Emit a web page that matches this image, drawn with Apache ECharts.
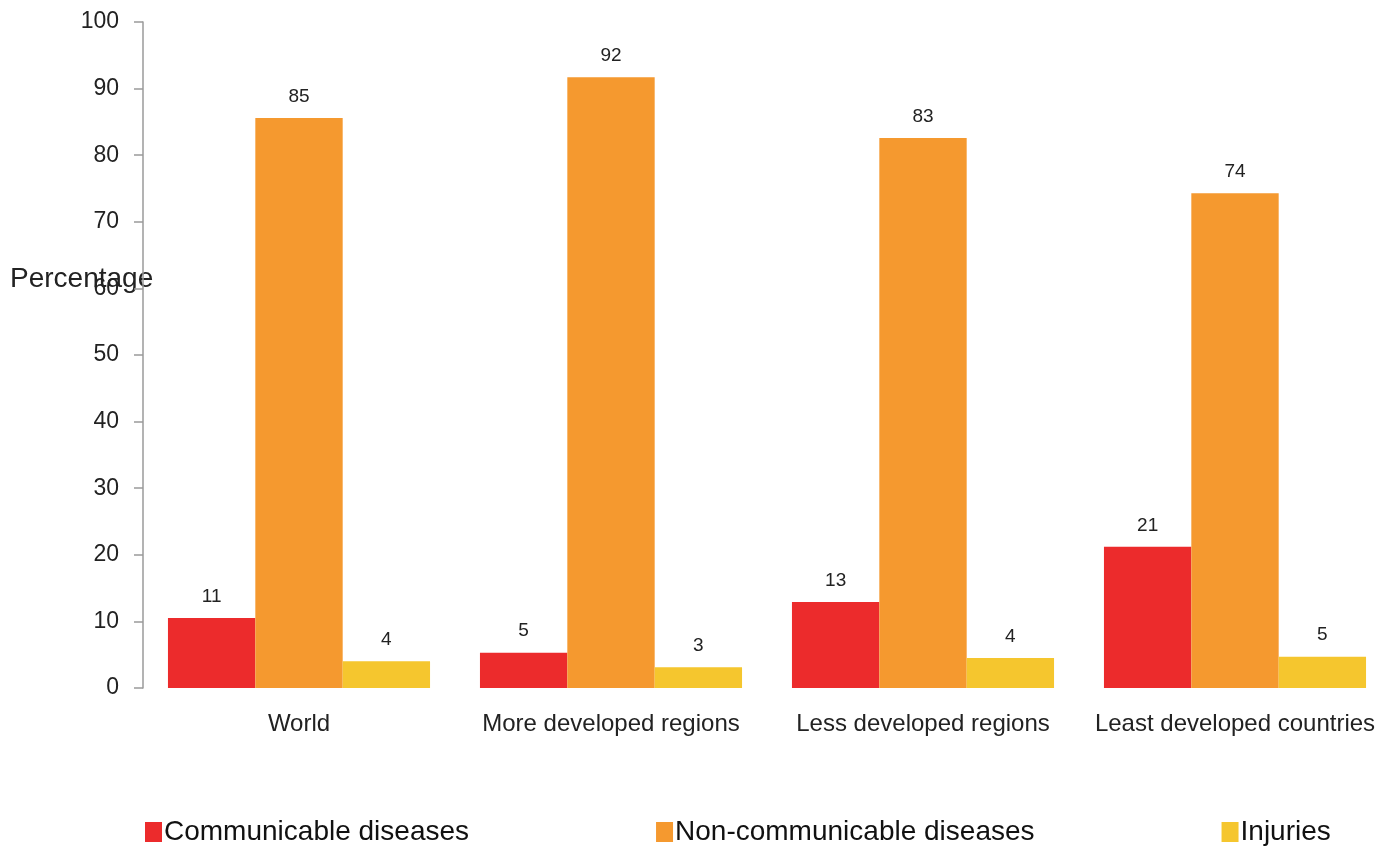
<!DOCTYPE html>
<html>
<head>
<meta charset="utf-8">
<script src="https://cdn.jsdelivr.net/npm/echarts@6/dist/echarts.min.js"></script>
<style>
html,body{margin:0;padding:0;background:#fff;}
#chart{width:1395px;height:847px;}
</style>
</head>
<body>
<div id="chart"></div>
<script>
const categories = ['World', 'More developed regions', 'Less developed regions', 'Least developed countries'];
const seriesNames = ['Communicable diseases', 'Non-communicable diseases', 'Injuries'];
const communicable = [10.5, 5.3, 12.9, 21.2];
const nonCommunicable = [85.6, 91.7, 82.6, 74.3];
const injuries = [4.0, 3.1, 4.5, 4.7];
const communicableLabels = ['11', '5', '13', '21'];
const nonCommunicableLabels = ['85', '92', '83', '74'];
const injuriesLabels = ['4', '3', '4', '5'];
const yTicks = [0, 10, 20, 30, 40, 50, 60, 70, 80, 90, 100];

const colors = ['#EC2B2C', '#F5992F', '#F5C62E'];
const FONT = 'Liberation Sans, Arial, sans-serif';
const chart = echarts.init(document.getElementById('chart'));

function mkSeries(name, data, labels, color) {
  return {
    name: name,
    type: 'bar',
    data: data,
    barGap: 0,
    barCategoryGap: '16%',
    itemStyle: { color: color },
    label: {
      show: true,
      position: 'top',
      distance: 12,
      color: '#222',
      fontSize: 19,
      fontFamily: FONT,
      formatter: p => labels[p.dataIndex]
    }
  };
}

chart.setOption({
  animation: false,
  color: colors,
  grid: { left: 143, right: 4, top: 22, bottom: 159, containLabel: false },
  legend: {
    left: 140,
    top: 813,
    itemGap: 187,
    itemWidth: 17,
    itemHeight: 20,
    icon: 'rect',
    textStyle: { fontSize: 28, color: '#111', fontFamily: FONT, padding: [0,0,0,-3] },
    data: seriesNames
  },
  xAxis: {
    type: 'category',
    data: categories,
    axisLine: { show: false },
    axisTick: { show: false },
    axisLabel: { interval: 0, hideOverlap: false, color: '#222', fontSize: 24, margin: 24, fontFamily: FONT }
  },
  yAxis: {
    type: 'value',
    min: yTicks[0],
    max: yTicks[yTicks.length - 1],
    interval: 10,
    axisLine: { show: true, lineStyle: { color: '#9a9a9a', width: 1.5 } },
    axisTick: { show: true, length: 9, lineStyle: { color: '#9a9a9a', width: 1.5 } },
    splitLine: { show: false },
    axisLabel: { color: '#222', fontSize: 23, margin: 24, fontFamily: FONT }
  },
  graphic: [{
    type: 'text',
    left: 10,
    top: 265,
    style: { text: 'Percentage', fontSize: 28, fill: '#222', fontFamily: FONT }
  }],
  series: [
    mkSeries(seriesNames[0], communicable, communicableLabels, colors[0]),
    mkSeries(seriesNames[1], nonCommunicable, nonCommunicableLabels, colors[1]),
    mkSeries(seriesNames[2], injuries, injuriesLabels, colors[2])
  ]
});
</script>
</body>
</html>
